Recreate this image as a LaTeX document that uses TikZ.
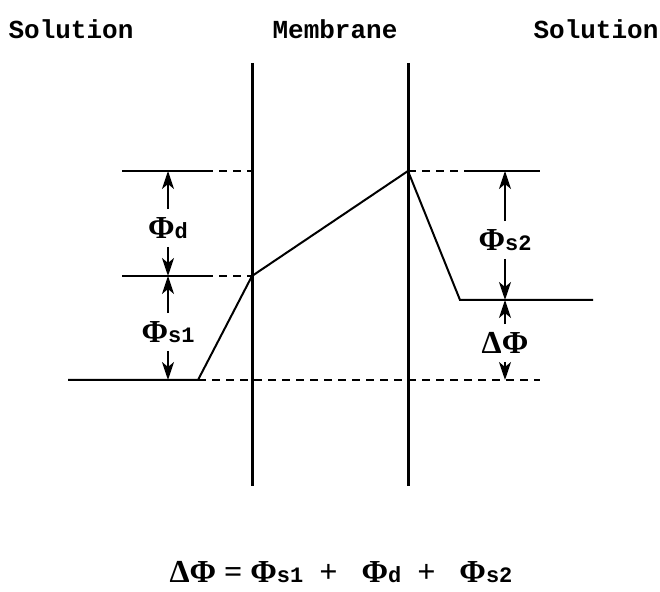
\documentclass[tikz,border=0pt]{standalone}
\usepackage{fontspec}
\setmainfont{Liberation Serif}
\newfontfamily\monofont{Liberation Mono}
\usetikzlibrary{arrows.meta,positioning,calc}

% potential symbol with its small index
\newcommand{\phiidx}[1]{\textbf{Φ}{\monofont\bfseries\fontsize{11}{13}\selectfont #1}}

\begin{document}
\begin{tikzpicture}[
  x=0.5pt, y=-0.5pt,
  level/.style={line width=1pt},
  guide/.style={line width=0.7pt, dash pattern=on 4pt off 3pt},
  wall/.style={line width=1.5pt},
  arrow/.style={-{Stealth[length=9pt,width=6pt,inset=2.5pt]}, line width=0.8pt, shorten <=1pt},
  lbl/.style={font=\fontsize{16}{18}\selectfont, inner sep=3pt},
  head/.style={font=\monofont\bfseries\fontsize{13}{15}\selectfont}
]
  \useasboundingbox (0,0) rectangle (660,592);

  \node[head] (solleft) at (71,29) {Solution};
  \node[head] (membrane) at (335,29) {Membrane};
  \node[head] (solright) at (596,29) {Solution};

  % membrane walls
  \coordinate (wallLtop) at (252,63);
  \coordinate (wallLbot) at (252,486);
  \coordinate (wallRtop) at (408,63);
  \coordinate (wallRbot) at (408,486);
  \draw[wall] (wallLtop) -- (wallLbot);
  \draw[wall] (wallRtop) -- (wallRbot);

  % potential profile
  \coordinate (p0) at (68,380);
  \coordinate (p1) at (198,380);
  \coordinate (p2) at (252,276);
  \coordinate (p3) at (408,171);
  \coordinate (p4) at (460,300);
  \coordinate (p5) at (593,300);
  \draw[level] (p0) -- (p1) -- (p2) -- (p3) -- (p4) -- (p5);

  % reference levels
  \coordinate (lefttop) at (122,171);
  \coordinate (leftmid) at (122,276);
  \draw[level] (lefttop) -- (205,171);
  \draw[guide] (205,171) -- (252,171);
  \draw[level] (leftmid) -- (205,276);
  \draw[guide] (205,276) -- (p2);
  \draw[guide] (p1) -- (540,380);
  \draw[guide] (p3) -- (465,171);
  \draw[level] (465,171) -- (540,171);

  % left arrows
  \coordinate (atop) at (168,171);
  \coordinate (amid) at (168,276);
  \coordinate (abot) at (168,380);
  \node[lbl] (phid) at (168,228) {\phiidx{d}};
  \node[lbl] (phis1) at (168,332) {\phiidx{s1}};
  \draw[arrow] (phid.north) -- (atop);
  \draw[arrow] (phid.south) -- (amid);
  \draw[arrow] (phis1.north) -- (amid);
  \draw[arrow] (phis1.south) -- (abot);

  % right arrows
  \coordinate (btop) at (505,171);
  \coordinate (bmid) at (505,300);
  \coordinate (bbot) at (505,380);
  \node[lbl] (phis2) at (505,240) {\phiidx{s2}};
  \node[lbl] (dphi) at (505,343) {\textbf{ΔΦ}};
  \draw[arrow] (phis2.north) -- (btop);
  \draw[arrow] (phis2.south) -- (bmid);
  \draw[arrow] (dphi.north) -- (bmid);
  \draw[arrow] (dphi.south) -- (bbot);

  \node[lbl] (sum) at (341,572) {\textbf{ΔΦ = }\phiidx{s1}\textbf{\ \ +\ \ \ }\phiidx{d}\textbf{\ \ +\ \ \ }\phiidx{s2}};
\end{tikzpicture}
\end{document}
